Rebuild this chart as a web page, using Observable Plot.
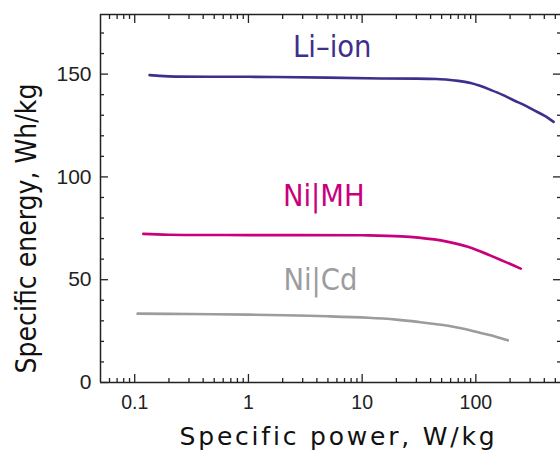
<!DOCTYPE html>
<html>
<head>
<meta charset="utf-8">
<script src="https://cdn.jsdelivr.net/npm/d3@7"></script>
<script src="https://cdn.jsdelivr.net/npm/@observablehq/plot@0.6"></script>
<style>
  html, body { margin: 0; padding: 0; background: #fff; overflow: hidden; }
  #chart { width: 560px; height: 454px; overflow: hidden; }
</style>
</head>
<body>
<div id="chart"></div>
<script>
// Series data: specific power (W/kg) vs specific energy (Wh/kg)
const liIonPower  = [0.135, 0.2, 1, 5, 14.7, 30, 45, 56.8, 70, 90, 110, 135, 170, 215, 270, 323, 400, 483];
const liIonEnergy = [149.5, 148.9, 148.7, 148.3, 147.9, 147.8, 147.6, 147.3, 146.7, 145.7, 144.2, 142.3, 140.0, 137.3, 134.8, 132.5, 129.8, 126.8];

const niMHPower  = [0.119, 0.2, 1, 10, 22, 43, 57, 85, 110, 166, 248];
const niMHEnergy = [72.3, 71.9, 71.7, 71.6, 71.1, 69.6, 68.4, 66.0, 63.7, 59.6, 55.4];

const niCdPower  = [0.106, 0.3, 1, 2.07, 5, 11.3, 20, 31, 57, 80, 110, 150, 191];
const niCdEnergy = [33.5, 33.3, 33.0, 32.7, 32.2, 31.5, 30.6, 29.5, 27.6, 26.0, 24.1, 22.3, 20.5];

const seriesNames  = ["Li\u2013ion", "Ni|MH", "Ni|Cd"];
const seriesColors = ["#3d2f8c", "#c8007c", "#9c9c9e"];
const labelPower   = [5.46, 4.6, 4.3];
const labelEnergy  = [158.3, 86, 45];

const xMajorTicks = [0.1, 1, 10, 100];
const xMinorTicks = [0.06, 0.07, 0.08, 0.09,
  0.2, 0.3, 0.4, 0.5, 0.6, 0.7, 0.8, 0.9,
  2, 3, 4, 5, 6, 7, 8, 9,
  20, 30, 40, 50, 60, 70, 80, 90,
  200, 300, 400, 500];
const yMajorTicks = [0, 50, 100, 150];
const yMinorTicks = [10, 20, 30, 40, 60, 70, 80, 90, 110, 120, 130, 140, 160, 170];

const xDomain = [0.05, 590];
const yDomain = [0, 179];
const xTitle = "Specific power, W/kg";
const yTitle = "Specific energy, Wh/kg";

const rows = [];
[[liIonPower, liIonEnergy], [niMHPower, niMHEnergy], [niCdPower, niCdEnergy]].forEach(([p, e], i) => {
  p.forEach((v, j) => rows.push({series: seriesNames[i], power: v, energy: e[j]}));
});
const labels = seriesNames.map((s, i) => ({series: s, power: labelPower[i], energy: labelEnergy[i]}));

const tickFont = "Liberation Sans, Arial, sans-serif";
const labelFont = "DejaVu Sans Condensed, DejaVu Sans, sans-serif";

const plot = Plot.plot({
  width: 560,
  height: 454,
  marginLeft: 100,
  marginTop: 14,
  marginBottom: 72,
  marginRight: 0,
  style: {background: "#fff", overflow: "hidden"},
  x: {type: "log", domain: xDomain, range: [100, 563]},
  y: {domain: yDomain},
  color: {domain: seriesNames, range: seriesColors},
  marks: [
    // frame lines
    Plot.ruleY([yDomain[0], yDomain[1]], {stroke: "#222", strokeWidth: 1.5}),
    Plot.ruleX([xDomain[0], xDomain[1]], {stroke: "#222", strokeWidth: 1.5}),
    // x axis bottom
    Plot.axisX(xMajorTicks, {anchor: "bottom", tickSize: -8, tickPadding: 21, tickFormat: d => String(d),
      fontSize: 19.5, fontFamily: tickFont, fill: "#222", stroke: "#222", strokeWidth: 1.3, label: null}),
    Plot.axisX(xMinorTicks, {anchor: "bottom", tickSize: -4, text: null, stroke: "#222", strokeWidth: 1.3, label: null}),
    // x axis top
    Plot.axisX(xMajorTicks, {anchor: "top", tickSize: -8, text: null, stroke: "#222", strokeWidth: 1.3, label: null}),
    Plot.axisX(xMinorTicks, {anchor: "top", tickSize: -4, text: null, stroke: "#222", strokeWidth: 1.3, label: null}),
    // y axis left
    Plot.axisY(yMajorTicks, {anchor: "left", tickSize: -8, tickPadding: 17, tickFormat: d => String(d),
      fontSize: 21, fontFamily: tickFont, fill: "#222", stroke: "#222", strokeWidth: 1.3, label: null}),
    Plot.axisY(yMinorTicks, {anchor: "left", tickSize: -4, text: null, stroke: "#222", strokeWidth: 1.3, label: null}),
    // y axis right
    Plot.axisY(yMajorTicks.filter(d => d > 0), {anchor: "right", tickSize: -8, text: null, stroke: "#222", strokeWidth: 1.3, label: null}),
    Plot.axisY(yMinorTicks, {anchor: "right", tickSize: -4, text: null, stroke: "#222", strokeWidth: 1.3, label: null}),
    // curves
    Plot.line(rows, {x: "power", y: "energy", z: "series", stroke: "series", strokeWidth: 2.6, curve: "catmull-rom"}),
    // series labels
    Plot.text(labels, {x: "power", y: "energy", text: "series", fill: "series", fontSize: 30.5,
      fontFamily: labelFont, textAnchor: "middle", lineAnchor: "bottom"}),
    // axis titles
    Plot.text([xTitle], {frameAnchor: "bottom", dx: 8, dy: 62, text: d => d, fontSize: 25, fill: "#111",
      fontFamily: "DejaVu Sans, sans-serif", lineAnchor: "bottom", textAnchor: "middle"}),
    Plot.text([yTitle], {frameAnchor: "left", dx: -65, dy: 30, rotate: -90, text: d => d, fontSize: 28, fill: "#111",
      fontFamily: labelFont, lineAnchor: "bottom", textAnchor: "middle"})
  ]
});
// letter spacing for the x-axis title
d3.select(plot).selectAll("text").filter(function() { return this.textContent === xTitle; })
  .style("letter-spacing", "2.8px");
document.getElementById("chart").appendChild(plot);
</script>
</body>
</html>
